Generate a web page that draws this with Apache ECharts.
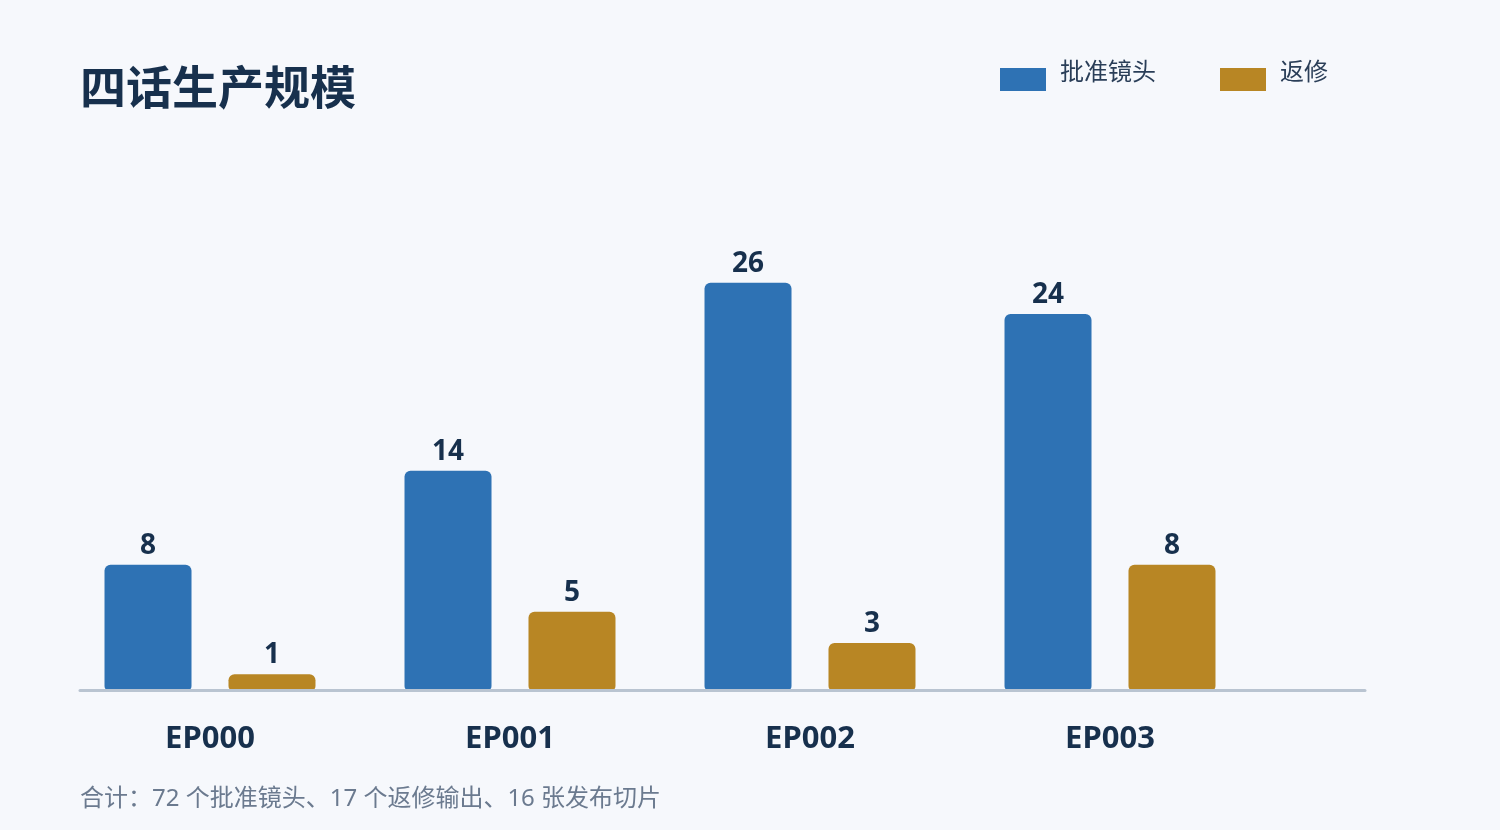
<!DOCTYPE html>
<html><head><meta charset="utf-8">
<style>html,body{margin:0;padding:0;background:#f6f8fc;}#c{width:1500px;height:830px;}</style>
<script src="https://cdn.jsdelivr.net/npm/echarts@6/dist/echarts.min.js"></script>
</head><body><div id="c"></div>
<script>
const categories = ['EP000', 'EP001', 'EP002', 'EP003'];
const approvedShots = [8, 14, 26, 24];
const revisions = [1, 5, 3, 8];
const seriesNames = ['批准镜头', '返修'];
const titleText = '四话生产规模';
const footText = '合计：72 个批准镜头、17 个返修输出、16 张发布切片';

const FONT = '"Noto Sans", "Noto Sans CJK SC", sans-serif';
const DARK = '#17304d';
const chart = echarts.init(document.getElementById('c'));
const labelCfg = {show: true, position: 'top', distance: 5, color: DARK, fontSize: 28, fontWeight: 'bold', fontFamily: FONT};
chart.setOption({
  backgroundColor: '#f6f8fc',
  textStyle: {fontFamily: FONT},
  title: [
    {text: titleText, left: 75, top: 63, textStyle: {fontSize: 46, fontWeight: 'bold', color: DARK, fontFamily: FONT}},
    {text: footText, left: 80, top: 787, padding: 0, textStyle: {fontSize: 24, fontWeight: 'normal', color: '#6b7a8f', fontFamily: FONT}}
  ],
  legend: {
    left: 1000, top: 56, padding: 0, itemWidth: 46, itemHeight: 35, itemGap: 64,
    icon: 'path://M0,0L0,0M0,12L46,12L46,35L0,35Z',
    textStyle: {fontSize: 24, color: '#2a3e58', fontFamily: FONT, padding: [0, 0, 0, 9]},
    data: seriesNames
  },
  grid: [
    {left: 60, width: 1200, top: 220, bottom: 140},
    {left: 80, right: 135, top: 220, bottom: 140}
  ],
  xAxis: [
    {type: 'category', data: categories, gridIndex: 0,
     axisLine: {show: false}, axisTick: {show: false},
     axisLabel: {margin: 34, fontSize: 31, fontWeight: 'bold', color: DARK, fontFamily: FONT}},
    {type: 'value', gridIndex: 1, min: 0, max: 1, z: 5,
     axisLine: {show: true, lineStyle: {color: '#b9c4d1', width: 3}},
     axisTick: {show: false}, axisLabel: {show: false}, splitLine: {show: false}}
  ],
  yAxis: [
    {type: 'value', gridIndex: 0, min: 0, max: 30, show: false},
    {type: 'value', gridIndex: 1, min: 0, max: 1, show: false}
  ],
  series: [
    {name: seriesNames[0], type: 'bar', data: approvedShots, barWidth: 87, barGap: '42.5%',
     itemStyle: {color: '#2e72b4', borderRadius: [6, 6, 4, 4]}, label: labelCfg},
    {name: seriesNames[1], type: 'bar', data: revisions, barWidth: 87, barGap: '42.5%',
     itemStyle: {color: '#b88624', borderRadius: [6, 6, 4, 4]}, label: labelCfg}
  ]
});
</script></body></html>
